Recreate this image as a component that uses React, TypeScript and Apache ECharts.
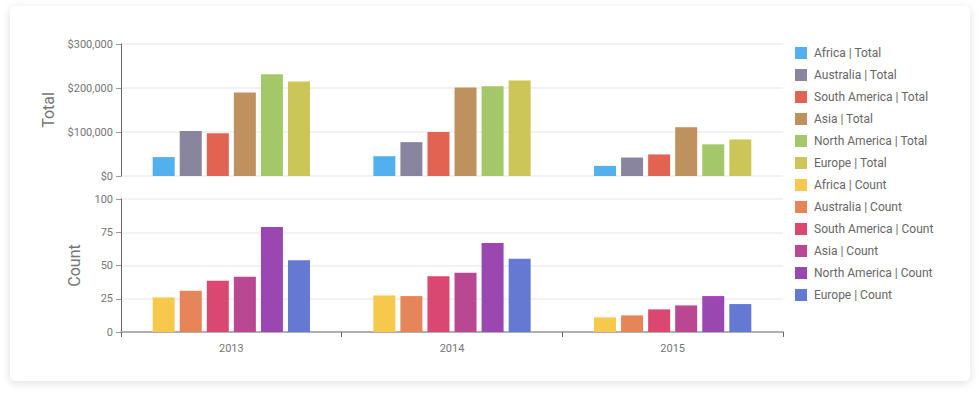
import React, { useEffect, useRef } from "react";
import * as echarts from "echarts";

const years = ["2013", "2014", "2015"];
const regions = ["Africa", "Australia", "South America", "Asia", "North America", "Europe"];

const totalAfrica = [43000, 45000, 23000];
const totalAustralia = [102000, 77000, 42000];
const totalSouthAmerica = [97000, 100000, 49000];
const totalAsia = [190000, 201000, 111000];
const totalNorthAmerica = [231000, 204000, 72000];
const totalEurope = [215000, 217000, 83000];

const countAfrica = [26, 27.5, 11];
const countAustralia = [31, 27, 12.5];
const countSouthAmerica = [38.5, 42, 17];
const countAsia = [41.5, 44.5, 20];
const countNorthAmerica = [79, 67, 27];
const countEurope = [54, 55, 21];

const totalColors = ["#52b0ef", "#8a859f", "#e36353", "#bf915e", "#a4c76a", "#cbc657"];
const countColors = ["#f6c94d", "#e6845a", "#da4771", "#ba4791", "#9b47b1", "#6679d2"];

const totalTicks = { min: 0, max: 300000, interval: 100000 };
const countTicks = { min: 0, max: 100, interval: 25 };

const totals = [totalAfrica, totalAustralia, totalSouthAmerica, totalAsia, totalNorthAmerica, totalEurope];
const counts = [countAfrica, countAustralia, countSouthAmerica, countAsia, countNorthAmerica, countEurope];

const FONT = "Roboto, 'Noto Sans', sans-serif";

export default function App() {
  const ref = useRef<HTMLDivElement>(null);

  useEffect(() => {
    document.body.style.margin = "0";
    const chart = echarts.init(ref.current!, null, { renderer: "svg" });
    const axisLabel = { color: "#757575", fontSize: 11, fontFamily: FONT };
    const nameStyle = { color: "#757575", fontSize: 16, fontFamily: FONT };
    const splitLine = { show: true, lineStyle: { color: "#eeeeee", width: 1.5 } };

    const series: any[] = [];
    regions.forEach((r, i) => {
      series.push({
        name: `${r} | Total`,
        type: "bar",
        xAxisIndex: 0,
        yAxisIndex: 0,
        data: totals[i],
        barWidth: 22,
        barGap: "23%",
        itemStyle: { color: totalColors[i] },
      });
    });
    regions.forEach((r, i) => {
      series.push({
        name: `${r} | Count`,
        type: "bar",
        xAxisIndex: 1,
        yAxisIndex: 1,
        data: counts[i],
        barWidth: 22,
        barGap: "23%",
        itemStyle: { color: countColors[i] },
      });
    });

    chart.setOption({
      animation: false,
      textStyle: { fontFamily: FONT },
      grid: [
        { left: 121, right: 197, top: 44, height: 132 },
        { left: 121, right: 197, top: 199, height: 133 },
      ],
      legend: {
        orient: "vertical",
        left: 795,
        top: 47,
        padding: 0,
        itemWidth: 12,
        itemHeight: 12,
        itemGap: 10,
        icon: "rect",
        textStyle: { color: "#666666", fontSize: 12, fontFamily: FONT, padding: [0, 0, 0, 2] },
        data: series.map((s) => s.name),
      },
      xAxis: [
        {
          type: "category",
          gridIndex: 0,
          data: years,
          show: false,
        },
        {
          type: "category",
          gridIndex: 1,
          data: years,
          axisLine: { lineStyle: { color: "#b0b0b0", width: 2 } },
          axisTick: {
            show: true,
            length: 5,
            lineStyle: { color: "#666666" },
          },
          axisLabel: { ...axisLabel, margin: 11 },
        },
      ],
      yAxis: [
        {
          type: "value",
          gridIndex: 0,
          ...totalTicks,
          name: "Total",
          nameLocation: "middle",
          nameGap: 65,
          nameTextStyle: nameStyle,
          axisLine: { show: true, lineStyle: { color: "#666666" } },
          axisTick: { show: true, length: 5, lineStyle: { color: "#999999" } },
          axisLabel: {
            ...axisLabel,
            formatter: (v: number) => "$" + v.toLocaleString("en-US"),
          },
          splitLine,
        },
        {
          type: "value",
          gridIndex: 1,
          ...countTicks,
          name: "Count",
          nameLocation: "middle",
          nameGap: 39,
          nameTextStyle: nameStyle,
          axisLine: { show: true, lineStyle: { color: "#666666" } },
          axisTick: { show: true, length: 5, lineStyle: { color: "#999999" } },
          axisLabel,
          splitLine,
        },
      ],
      series,
    });
    return () => chart.dispose();
  }, []);

  return (
    <div style={{ position: "relative", width: 980, height: 395, background: "#ffffff", overflow: "hidden" }}>
      <div
        style={{
          position: "absolute",
          left: 10,
          top: 6,
          width: 960,
          height: 375,
          borderRadius: 5,
          background: "#ffffff",
          boxShadow: "0 2px 10px rgba(0,0,0,0.13)",
        }}
      />
      <div ref={ref} style={{ position: "absolute", left: 0, top: 0, width: 980, height: 395 }} />
    </div>
  );
}
